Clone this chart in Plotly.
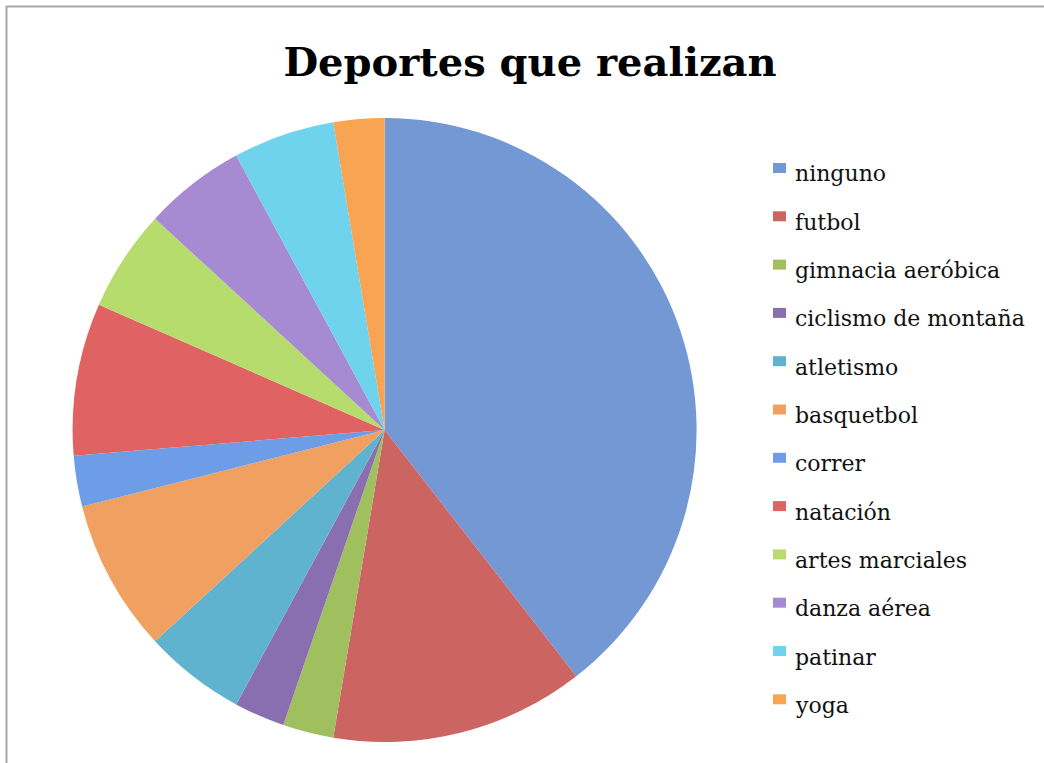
import plotly.graph_objects as go

labels = ["ninguno", "futbol", "gimnacia aeróbica", "ciclismo de montaña", "atletismo",
          "basquetbol", "correr", "natación", "artes marciales", "danza aérea",
          "patinar", "yoga"]
values = [15, 5, 1, 1, 2, 3, 1, 3, 2, 2, 2, 1]
colors = ["#7398d3", "#cc6462", "#a0c060", "#8a6fb0", "#5fb3cf", "#f0a060",
          "#6c9de6", "#e06262", "#b6dc6e", "#a68ad2", "#6fd3ee", "#f8a452"]
title_text = "Deportes que realizan"

W, H = 1044, 763


def px(x):
    return x / W


def py(y):
    return 1 - y / H


fig = go.Figure(go.Pie(
    labels=labels, values=values, sort=False, direction="clockwise", rotation=0,
    marker=dict(colors=colors, line=dict(width=0)),
    textinfo="none", showlegend=False,
    domain=dict(x=[px(72.6), px(696.6)], y=[py(742), py(118)]),
))

shapes = [
    dict(type="line", xref="paper", yref="paper", x0=px(6.5), x1=px(6.5), y0=py(6), y1=py(780),
         line=dict(color="#a6a6a6", width=2)),
    dict(type="line", xref="paper", yref="paper", x0=px(6), x1=px(1060), y0=py(6.5), y1=py(6.5),
         line=dict(color="#a6a6a6", width=2)),
]
annotations = []
legend_top = 174
legend_step = 48.3
for i, (lab, col) in enumerate(zip(labels, colors)):
    yc = legend_top + i * legend_step
    shapes.append(dict(type="rect", xref="paper", yref="paper",
                       x0=px(773), x1=px(786), y0=py(yc - 1), y1=py(yc - 11),
                       fillcolor=col, line=dict(width=0)))
    annotations.append(dict(text=lab, xref="paper", yref="paper", x=px(793), y=py(yc),
                            xanchor="left", yanchor="middle", showarrow=False,
                            font=dict(family="DejaVu Serif", size=22, color="#111111")))

fig.update_layout(
    width=W, height=H,
    margin=dict(l=0, r=0, t=0, b=0),
    paper_bgcolor="white", plot_bgcolor="white",
    title=dict(text="<b>" + title_text + "</b>", x=px(530), xanchor="center",
               y=py(62), yanchor="middle", yref="paper",
               font=dict(family="DejaVu Serif", size=40, color="black")),
    shapes=shapes, annotations=annotations,
)

fig.write_html("out.html")
